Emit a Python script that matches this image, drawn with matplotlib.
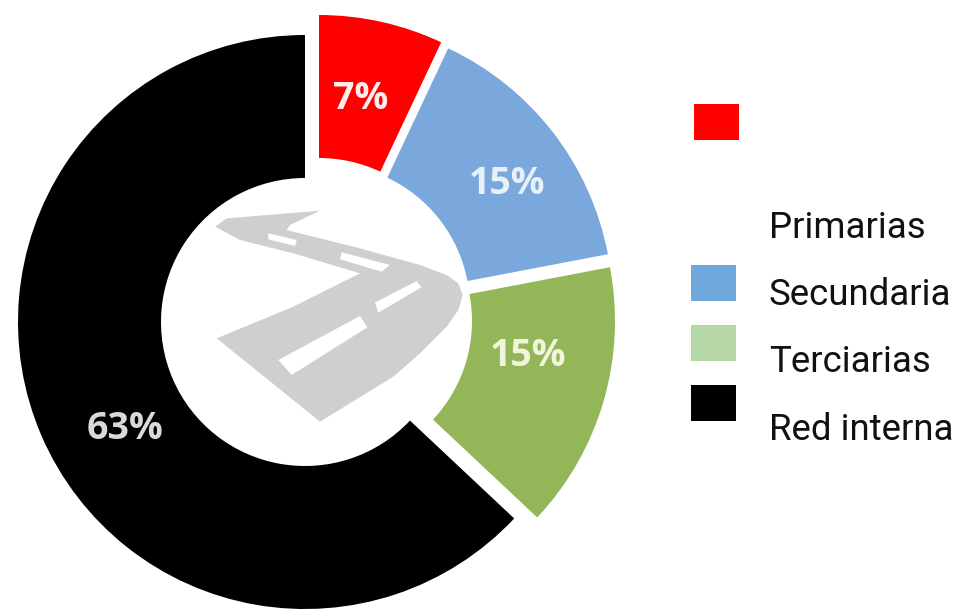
import matplotlib
matplotlib.use('Agg')
import matplotlib.pyplot as plt
from matplotlib.patches import Polygon, Rectangle

categories = ['Primarias', 'Secundaria', 'Terciarias', 'Red interna']
values = [7, 15, 15, 63]
pct_labels = ['7%', '15%', '15%', '63%']

wedge_colors = ['#fe0000', '#7ba8dc', '#93b658', '#000000']
swatch_colors = ['#ff0000', '#6fa8dc', '#b6d7a8', '#000000']
pct_colors = ['#fdeeee', '#e8f0fa', '#f0f6dc', '#d9d9d9']

# everything below is in image pixels, y flipped when drawn
H = 610
centers = [(319, 302), (326, 308), (328, 321), (305, 322)]
pct_pos = [(361, 99), (507, 184), (528, 356), (125, 429)]
swatch_pos = [(694, 104), (691, 265), (691, 325), (691, 385)]
text_y = [228, 295, 362, 430]

# road picture in the hole (crop px / 3 + offset)
road = [(165, 170), (200, 145), (480, 122), (390, 165), (380, 180), (600, 235), (780, 285),
        (860, 315), (895, 340), (908, 375), (895, 420), (860, 470), (780, 550), (700, 620),
        (480, 755), (170, 505), (400, 410), (600, 310), (400, 250), (240, 210)]
dashes = [[(325, 190), (410, 210), (405, 228), (325, 208)],
          [(545, 247), (690, 285), (665, 305), (540, 268)],
          [(645, 398), (770, 333), (784, 352), (655, 428)],
          [(355, 570), (600, 438), (622, 472), (395, 615)]]


def crop(pts):
    return [(160 + x / 3, H - (170 + y / 3)) for x, y in pts]


fig = plt.figure(figsize=(9.63, 6.10), dpi=100)
ax = fig.add_axes([0, 0, 1, 1])

wedges, _ = ax.pie(values, colors=wedge_colors, startangle=90, counterclock=False, radius=287,
                   wedgeprops={'width': 143, 'linewidth': 0})
for w, (cx, cy) in zip(wedges, centers):
    w.set_center((cx, H - cy))

ax.add_patch(Polygon(crop(road), closed=True, fc='#cfcfcf', ec='none'))
for d in dashes:
    ax.add_patch(Polygon(crop(d), closed=True, fc='white', ec='none'))

for lab, (x, y), c in zip(pct_labels, pct_pos, pct_colors):
    ax.text(x, H - y, lab, color=c, fontsize=27, fontweight='bold', family='Open Sans',
            ha='center', va='center')

for name, (x, y), c, ty in zip(categories, swatch_pos, swatch_colors, text_y):
    ax.add_patch(Rectangle((x, H - y - 36), 45, 36, fc=c, ec='none'))
    ax.text(769, H - ty, name, color='#111111', fontsize=26.4, family='Roboto', ha='left', va='center')

ax.set_xlim(0, 963)
ax.set_ylim(0, H)
ax.set_aspect('equal')
ax.axis('off')

fig.savefig('out.png', dpi=100)
